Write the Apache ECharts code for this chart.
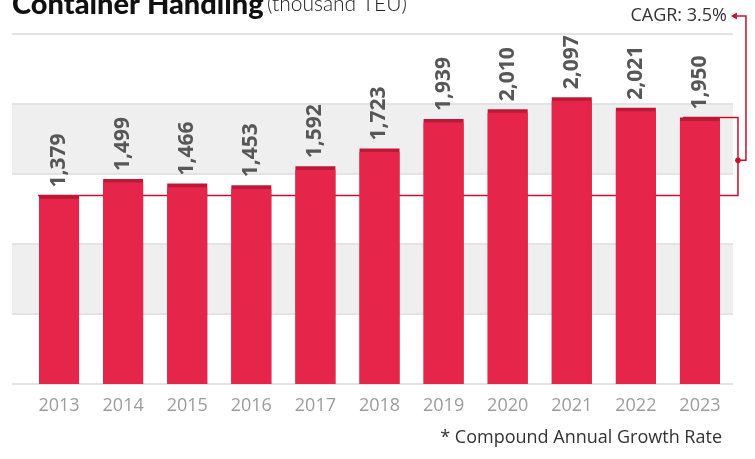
<!DOCTYPE html>
<html>
<head>
<meta charset="utf-8">
<script src="https://cdn.jsdelivr.net/npm/echarts@6/dist/echarts.min.js"></script>
<style>
  html, body { margin: 0; padding: 0; background: #fff; }
  #chart { width: 755px; height: 459px; }
</style>
</head>
<body>
<div id="chart"></div>
<script>
// Yearly container throughput, thousand TEU
const years = ['2013', '2014', '2015', '2016', '2017', '2018', '2019', '2020', '2021', '2022', '2023'];
const teu = [1379, 1499, 1466, 1453, 1592, 1723, 1939, 2010, 2097, 2021, 1950];
const cagrText = 'CAGR: 3.5%';
const footnote = '* Compound Annual Growth Rate';

// value-axis range shared by the backdrop grid and the bar grid
const axisMax = 2560;
const axisStep = 512;
// darker cap on each bar top, in axis units
const capUnits = 26;

const RED = '#e5264a';
const CAP = '#bd1838';
const LINE = '#c8102e';
const SANS = '"Open Sans", Lato, sans-serif';
const HEAVY = 'Lato, "Open Sans", sans-serif';

const chart = echarts.init(document.getElementById('chart'), null, { renderer: 'canvas' });

const option = {
  animation: false,
  backgroundColor: '#fff',
  grid: [
    // banded backdrop, slightly wider than the bar area
    { left: 12, right: 22, top: 34, height: 350, containLabel: false },
    // bars
    { left: 27, right: 23, top: 34, height: 350, containLabel: false }
  ],
  xAxis: [
    { gridIndex: 0, type: 'category', data: years, show: false },
    {
      gridIndex: 1, type: 'category', data: years,
      axisLine: { show: false }, axisTick: { show: false },
      axisLabel: { color: '#9c9c9c', fontSize: 18, fontFamily: SANS, margin: 13 }
    }
  ],
  yAxis: [
    {
      gridIndex: 0, type: 'value', min: 0, max: axisMax, interval: axisStep,
      axisLine: { show: false }, axisTick: { show: false }, axisLabel: { show: false },
      splitLine: { show: true, lineStyle: { color: '#e3e3e3', width: 2 } },
      splitArea: { show: true, areaStyle: { color: ['rgba(255,255,255,0)', '#efefef'] } }
    },
    {
      gridIndex: 1, type: 'value', min: 0, max: axisMax, interval: axisStep,
      show: false, splitLine: { show: false }
    }
  ],
  series: [
    {
      name: 'cap', type: 'bar', xAxisIndex: 1, yAxisIndex: 1,
      data: teu, barWidth: 40, barGap: '-100%', z: 3,
      itemStyle: { color: CAP },
      label: {
        show: true, position: 'top', rotate: 90, distance: 8,
        align: 'left', verticalAlign: 'middle',
        color: '#575757', fontSize: 21, fontWeight: 'bold', fontFamily: SANS,
        formatter: p => p.value.toLocaleString('en-US')
      }
    },
    {
      name: 'body', type: 'bar', xAxisIndex: 1, yAxisIndex: 1,
      data: teu.map(v => v - capUnits), barWidth: 40, barGap: '-100%', z: 4,
      itemStyle: { color: RED }
    }
  ]
};

chart.setOption(option);

// CAGR bracket: joins the first and last bar tops, then leads up to the label
const first = chart.convertToPixel({ seriesIndex: 0 }, [0, teu[0]]);
const last = chart.convertToPixel({ seriesIndex: 0 }, [years.length - 1, teu[teu.length - 1]]);
const bracketX = last[0] + 38;
const leadX = bracketX + 8;
const dotY = last[1] + (first[1] - last[1]) * 0.55;
const labelY = 16;

const lineStyle = { stroke: LINE, lineWidth: 1.5, fill: null };

chart.setOption({
  graphic: [
    {
      type: 'text', left: 12, top: -10,
      style: {
        text: '{b|Container Handling} {l|(thousand TEU)}',
        rich: {
          b: { fontSize: 29, fontWeight: 900, fontFamily: HEAVY, fill: '#111' },
          l: { fontSize: 21, fontWeight: 300, fontFamily: HEAVY, fill: '#222' }
        }
      }
    },
    {
      type: 'polyline', z: 2,
      shape: { points: [[first[0] - 21, first[1]], [bracketX, first[1]], [bracketX, last[1]], [last[0] - 17, last[1]]] },
      style: lineStyle
    },
    {
      type: 'polyline', z: 5,
      shape: { points: [[bracketX, dotY], [leadX, dotY], [leadX, labelY], [bracketX - 1, labelY]] },
      style: lineStyle
    },
    {
      type: 'circle', z: 6,
      shape: { cx: bracketX, cy: dotY, r: 2.8 },
      style: { fill: LINE }
    },
    {
      type: 'polygon', z: 6,
      shape: { points: [[bracketX - 7, labelY], [bracketX - 1, labelY - 3.5], [bracketX - 1, labelY + 3.5]] },
      style: { fill: LINE }
    },
    {
      type: 'text', z: 6,
      style: {
        text: cagrText, x: bracketX - 11, y: labelY,
        align: 'right', verticalAlign: 'middle',
        fontSize: 18, fontFamily: SANS, fill: '#333'
      }
    },
    {
      type: 'text',
      style: {
        text: footnote, x: 722, y: 438,
        align: 'right', verticalAlign: 'middle',
        fontSize: 18, fontFamily: SANS, fill: '#333'
      }
    }
  ]
});
</script>
</body>
</html>
